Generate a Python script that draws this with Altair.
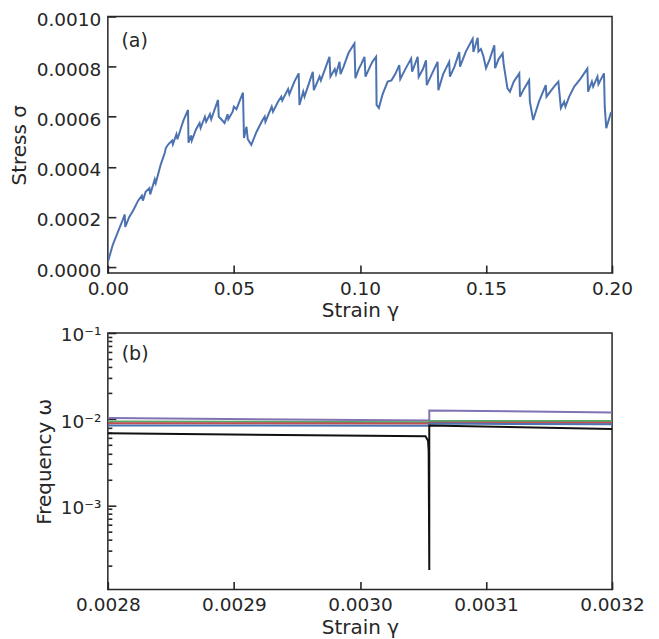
import altair as alt
import pandas as pd

# ---------- panel (a): stress-strain ----------
strain_a = [
    0.0000, 0.0020, 0.0040, 0.0060, 0.0067, 0.0069, 0.0085, 0.0100, 0.0120, 0.0135,
    0.0139, 0.0150, 0.0165, 0.0168, 0.0186, 0.0190, 0.0210, 0.0226, 0.0230, 0.0240,
    0.0255, 0.0258, 0.0272, 0.0276, 0.0290, 0.0300, 0.0318, 0.0320, 0.0330, 0.0333,
    0.0350, 0.0364, 0.0368, 0.0385, 0.0390, 0.0405, 0.0410, 0.0437, 0.0440, 0.0450,
    0.0463, 0.0475, 0.0478, 0.0495, 0.0500, 0.0510, 0.0536, 0.0540, 0.0550, 0.0555,
    0.0569, 0.0590, 0.0610, 0.0622, 0.0625, 0.0650, 0.0655, 0.0675, 0.0688, 0.0692,
    0.0715, 0.0720, 0.0740, 0.0757, 0.0760, 0.0775, 0.0780, 0.0800, 0.0813, 0.0817,
    0.0840, 0.0845, 0.0865, 0.0879, 0.0883, 0.0900, 0.0905, 0.0919, 0.0923, 0.0935,
    0.0955, 0.0978, 0.0982, 0.0995, 0.1005, 0.1018, 0.1022, 0.1040, 0.1050, 0.1064,
    0.1066, 0.1075, 0.1090, 0.1110, 0.1125, 0.1140, 0.1156, 0.1160, 0.1180, 0.1203,
    0.1207, 0.1229, 0.1233, 0.1250, 0.1262, 0.1265, 0.1285, 0.1308, 0.1311, 0.1330,
    0.1354, 0.1357, 0.1375, 0.1394, 0.1397, 0.1420, 0.1447, 0.1450, 0.1467, 0.1470,
    0.1480, 0.1490, 0.1500, 0.1515, 0.1533, 0.1536, 0.1550, 0.1566, 0.1570, 0.1585,
    0.1595, 0.1610, 0.1632, 0.1635, 0.1650, 0.1671, 0.1674, 0.1687, 0.1710, 0.1737,
    0.1740, 0.1755, 0.1770, 0.1787, 0.1797, 0.1810, 0.1815, 0.1830, 0.1850, 0.1876,
    0.1902, 0.1905, 0.1920, 0.1925, 0.1942, 0.1946, 0.1968, 0.1971, 0.1977, 0.1995,
    0.2000,
]
stress_a = [
    0.000020, 0.000090, 0.000140, 0.000190, 0.000210, 0.000160, 0.000200, 0.000225, 0.000265, 0.000285,
    0.000265, 0.000300, 0.000315, 0.000290, 0.000350, 0.000335, 0.000410, 0.000456, 0.000475, 0.000490,
    0.000505, 0.000490, 0.000530, 0.000510, 0.000555, 0.000585, 0.000627, 0.000496, 0.000525, 0.000505,
    0.000550, 0.000575, 0.000555, 0.000600, 0.000580, 0.000610, 0.000590, 0.000667, 0.000600, 0.000590,
    0.000575, 0.000610, 0.000590, 0.000620, 0.000640, 0.000630, 0.000696, 0.000515, 0.000560, 0.000510,
    0.000488, 0.000540, 0.000580, 0.000600, 0.000580, 0.000640, 0.000620, 0.000660, 0.000680, 0.000665,
    0.000710, 0.000690, 0.000740, 0.000773, 0.000647, 0.000700, 0.000680, 0.000740, 0.000779, 0.000706,
    0.000760, 0.000745, 0.000800, 0.000839, 0.000760, 0.000790, 0.000770, 0.000819, 0.000770, 0.000800,
    0.000855, 0.000892, 0.000754, 0.000790, 0.000810, 0.000839, 0.000760, 0.000800, 0.000820, 0.000839,
    0.000647, 0.000635, 0.000690, 0.000740, 0.000745, 0.000770, 0.000806, 0.000750, 0.000790, 0.000832,
    0.000780, 0.000839, 0.000759, 0.000790, 0.000825, 0.000726, 0.000770, 0.000819, 0.000706, 0.000770,
    0.000819, 0.000760, 0.000800, 0.000858, 0.000800, 0.000860, 0.000911, 0.000858, 0.000915, 0.000860,
    0.000870, 0.000840, 0.000794, 0.000830, 0.000885, 0.000794, 0.000830, 0.000852, 0.000810, 0.000713,
    0.000700, 0.000740, 0.000773, 0.000680, 0.000710, 0.000746, 0.000660, 0.000587, 0.000660, 0.000726,
    0.000680, 0.000700, 0.000720, 0.000740, 0.000635, 0.000660, 0.000640, 0.000680, 0.000720, 0.000753,
    0.000792, 0.000700, 0.000740, 0.000720, 0.000760, 0.000730, 0.000773, 0.000640, 0.000554, 0.000615,
    0.000620,
]
stress_ticks = [0.0, 0.0002, 0.0004, 0.0006, 0.0008, 0.0010]
strain_ticks_a = [0.0, 0.05, 0.10, 0.15, 0.20]

# ---------- panel (b): frequencies ----------
series_b = ["purple", "green", "red", "blue", "black"]
colors_b = ["#8172b2", "#55a868", "#c44e52", "#4c72b0", "#111111"]
jump_strain = 0.003055
strain_b = {
    "purple": [0.0028, jump_strain, jump_strain, 0.0032],
    "green":  [0.0028, jump_strain, jump_strain, 0.0032],
    "red":    [0.0028, jump_strain, jump_strain, 0.0032],
    "blue":   [0.0028, jump_strain, jump_strain, 0.0032],
    "black":  [0.0028, 0.003052, 0.003054, 0.0030545, jump_strain, jump_strain, 0.0032],
}
freq_b = {
    "purple": [0.01028, 0.00966, 0.01262, 0.01197],
    "green":  [0.00940, 0.00920, 0.00950, 0.00950],
    "red":    [0.00898, 0.00890, 0.00910, 0.00910],
    "blue":   [0.00845, 0.00836, 0.00887, 0.00870],
    "black":  [0.00687, 0.00631, 0.00560, 0.00430, 0.000177, 0.00845, 0.00769],
}
freq_major = [0.1, 0.01, 0.001]
freq_minor = [m * 10.0 ** e for e in (-4, -3, -2) for m in range(2, 10)]
strain_ticks_b = [0.0028, 0.0029, 0.0030, 0.0031, 0.0032]

# ---------- build tables ----------
df_a = pd.DataFrame({"strain": strain_a, "stress": stress_a})
df_a["idx"] = range(len(df_a))

rows = []
for s in series_b:
    for i, (x, y) in enumerate(zip(strain_b[s], freq_b[s])):
        rows.append({"series": s, "strain": x, "freq": y, "idx": i})
df_b = pd.DataFrame(rows)

W, H = 505, 257
FONT = "DejaVu Sans"
INK = "#262626"

def tick_axis(orient, offset, values, size):
    return alt.Axis(orient=orient, offset=offset, values=values, labels=False,
                    domain=False, ticks=True, tickSize=size, tickWidth=1.6,
                    tickColor=INK, grid=False, title=None)

# panel a
xa_scale = alt.Scale(domain=[0, 0.2], nice=False, zero=False)
ya_scale = alt.Scale(domain=[-0.000024, 0.001], nice=False, zero=False)

line_a = alt.Chart(df_a).mark_line(color="#4c72b0", strokeWidth=2, clip=True).encode(
    x=alt.X("strain:Q", scale=xa_scale,
            axis=alt.Axis(title="Strain γ", values=strain_ticks_a, format=".2f",
                          ticks=False, domain=False, grid=False, labelPadding=6,
                          labelFlush=False, titlePadding=3)),
    y=alt.Y("stress:Q", scale=ya_scale,
            axis=alt.Axis(title="Stress σ", values=stress_ticks, format=".4f",
                          ticks=False, domain=False, grid=False, labelPadding=7,
                          labelOffset=3, labelFlush=False, titlePadding=7)),
    order="idx:Q",
)
ticks_a = alt.Chart(df_a).mark_line(opacity=0).encode(
    x=alt.X("strain:Q", scale=xa_scale, axis=tick_axis("top", -H, strain_ticks_a, 8)),
    y=alt.Y("stress:Q", scale=ya_scale, axis=tick_axis("right", -W, stress_ticks, 8)),
    order="idx:Q",
)
label_a = alt.Chart(pd.DataFrame({"strain": [0.0054], "stress": [0.000904], "t": ["(a)"]})).mark_text(
    align="left", baseline="middle", font=FONT, fontSize=19, color=INK
).encode(x=alt.X("strain:Q", scale=xa_scale, axis=None),
         y=alt.Y("stress:Q", scale=ya_scale, axis=None), text="t:N")

panel_a = alt.layer(line_a, ticks_a, label_a).resolve_axis(x="independent", y="independent").properties(width=W, height=H)

# panel b
xb_scale = alt.Scale(domain=[0.0028, 0.0032], nice=False, zero=False)
yb_scale = alt.Scale(type="log", domain=[0.000105, 0.1], nice=False)
sup = ("datum.value > 0.05 ? '10⁻¹' : datum.value > 0.005 ? '10⁻²' : "
       "datum.value > 0.0005 ? '10⁻³' : ''")

line_b = alt.Chart(df_b).mark_line(strokeWidth=2, clip=True).encode(
    x=alt.X("strain:Q", scale=xb_scale,
            axis=alt.Axis(title="Strain γ", values=strain_ticks_b, format=".4f",
                          ticks=False, domain=False, grid=False, labelPadding=6,
                          labelFlush=False, titlePadding=3)),
    y=alt.Y("freq:Q", scale=yb_scale,
            axis=alt.Axis(title="Frequency ω", values=freq_major, labelExpr=sup,
                          ticks=False, domain=False, grid=False, labelPadding=7,
                          labelOffset=2, labelFlush=False, titlePadding=6)),
    color=alt.Color("series:N", scale=alt.Scale(domain=series_b, range=colors_b), legend=None),
    detail="series:N",
    order="idx:Q",
)
ticks_b_major = alt.Chart(df_b).mark_line(opacity=0).encode(
    x=alt.X("strain:Q", scale=xb_scale, axis=tick_axis("top", -H, strain_ticks_b, 8)),
    y=alt.Y("freq:Q", scale=yb_scale, axis=tick_axis("right", -W, freq_major, 8)),
    detail="series:N",
)
ticks_b_minor = alt.Chart(df_b).mark_line(opacity=0).encode(
    y=alt.Y("freq:Q", scale=yb_scale, axis=tick_axis("right", -W, freq_minor, 4)),
    detail="series:N",
)
label_b = alt.Chart(pd.DataFrame({"strain": [0.002811], "freq": [0.057], "t": ["(b)"]})).mark_text(
    align="left", baseline="middle", font=FONT, fontSize=19, color=INK
).encode(x=alt.X("strain:Q", scale=xb_scale, axis=None),
         y=alt.Y("freq:Q", scale=yb_scale, axis=None), text="t:N")

panel_b = alt.layer(line_b, ticks_b_major, ticks_b_minor, label_b).resolve_axis(
    x="independent", y="independent").properties(width=W, height=H)

chart = alt.vconcat(panel_a, panel_b, spacing=3).properties(
    padding={"left": 0, "top": 1, "right": 5, "bottom": 2},
    background="white",
).configure_view(stroke=INK, strokeWidth=1.5).configure_axis(
    labelFont=FONT, labelFontSize=18.5, labelColor=INK,
    titleFont=FONT, titleFontSize=20, titleColor=INK, titleFontWeight="normal",
)

chart.save("out.html", embed_options={"renderer": "svg", "actions": False})
